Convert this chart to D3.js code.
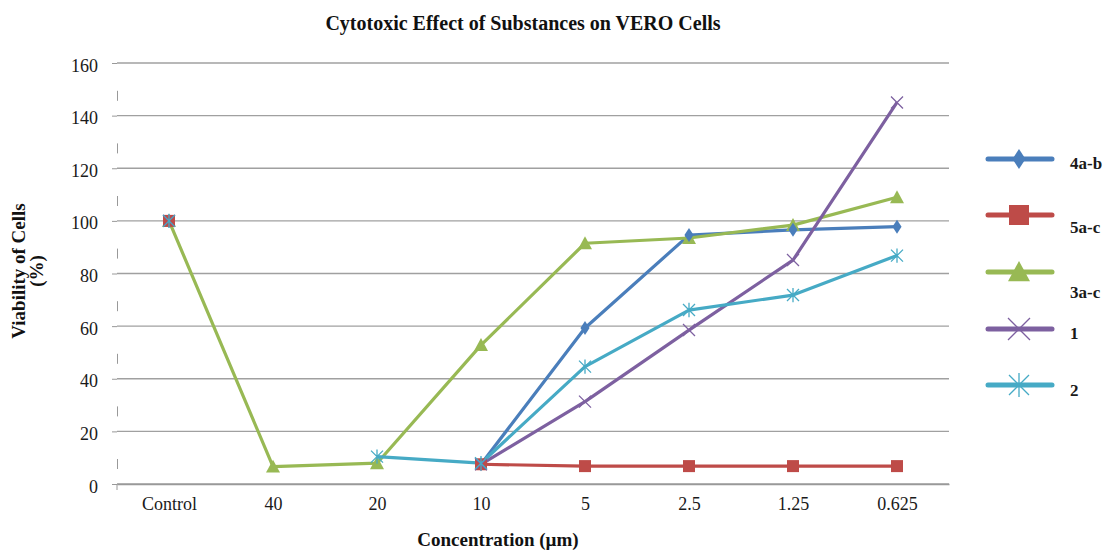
<!doctype html>
<html>
<head>
<meta charset="UTF-8">
<title>Cytotoxic Effect of Substances on VERO Cells</title>
<script src="https://d3js.org/d3.v7.min.js"></script>
<style>
  body { margin: 0; background: #fff; }
  text { font-family: "Liberation Serif", "Times New Roman", serif; }
</style>
</head>
<body>
<svg id="chart" width="1110" height="551"></svg>
<script>
// categories and tick labels
var concentrations = ["Control", "40", "20", "10", "5", "2.5", "1.25", "0.625"];
var yTicks = [0, 20, 40, 60, 80, 100, 120, 140, 160];

// series values (null = no measurement)
var s4ab = [100, null, null, 7.5, 59.3, 94.6, 96.6, 97.8];
var s5ac = [100, null, null, 7.5, 6.8, 6.8, 6.8, 6.8];
var s3ac = [100, 6.6, 7.9, 52.8, 91.5, 93.5, 98.4, 109];
var s1 = [100, null, null, 7.5, 31.3, 58.5, 85.1, 145];
var s2 = [100, null, 10.4, 7.9, 44.6, 66.1, 71.8, 86.8];

var seriesNames = ["4a-b", "5a-c", "3a-c", "1", "2"];
var seriesColors = ["#4A7EBB", "#BE4B48", "#98B954", "#7D60A0", "#46AAC5"];
var seriesMarkers = ["diamond", "square", "triangle", "cross", "star"];

var series = [s4ab, s5ac, s3ac, s1, s2].map(function (vals, i) {
  return { name: seriesNames[i], color: seriesColors[i], marker: seriesMarkers[i], values: vals };
});

var svg = d3.select("#chart");
var plotLeft = 117, plotRight = 949, plotTop = 63, plotBottom = 484;

var x = d3.scalePoint().domain(concentrations).range([plotLeft, plotRight]).padding(0.5);
var y = d3.scaleLinear().domain([0, 160]).range([plotBottom, plotTop]);

// gridlines
svg.append("g")
  .selectAll("line")
  .data(yTicks)
  .enter().append("line")
  .attr("x1", plotLeft).attr("x2", plotRight)
  .attr("y1", function (d) { return y(d); })
  .attr("y2", function (d) { return y(d); })
  .attr("stroke", "#a0a0a0")
  .attr("stroke-width", 1.3);

// y axis
var yAxis = svg.append("g")
  .attr("transform", "translate(" + plotLeft + ",0)")
  .call(d3.axisLeft(y).tickValues(yTicks).tickSize(5).tickPadding(14));
yAxis.select(".domain").attr("stroke", "#999").attr("stroke-dasharray", "0,21,10,21.6");
yAxis.selectAll(".tick line").attr("stroke", "#999");
yAxis.selectAll(".tick text")
  .attr("font-family", "Liberation Serif, serif")
  .attr("font-size", 18)
  .attr("dy", "0.45em")
  .attr("fill", "#1a1a1a");

// x axis
var xAxis = svg.append("g")
  .attr("transform", "translate(0," + plotBottom + ")")
  .call(d3.axisBottom(x).tickSize(0).tickPadding(13));
xAxis.select(".domain").attr("stroke", "#999").attr("stroke-width", 1.3);
xAxis.selectAll(".tick text")
  .attr("font-family", "Liberation Serif, serif")
  .attr("font-size", 18)
  .attr("fill", "#1a1a1a");
svg.append("line")
  .attr("x1", plotLeft).attr("x2", plotLeft)
  .attr("y1", plotBottom).attr("y2", plotBottom + 6)
  .attr("stroke", "#999");

// lines
var line = d3.line()
  .defined(function (d) { return d.v !== null; })
  .x(function (d) { return x(d.c); })
  .y(function (d) { return y(d.v); });

function pts(s) {
  return s.values.map(function (v, i) { return { c: concentrations[i], v: v }; });
}

function drawMarker(g, type, color, h) {
  if (type === "diamond") {
    g.append("path").attr("d", "M0," + (-h) + "L" + (h * 0.65) + ",0L0," + h + "L" + (-h * 0.65) + ",0Z").attr("fill", color);
  } else if (type === "square") {
    g.append("rect").attr("x", -h).attr("y", -h).attr("width", h * 2).attr("height", h * 2).attr("fill", color);
  } else if (type === "triangle") {
    g.append("path").attr("d", "M0," + (-h) + "L" + h + "," + (h * 0.85) + "L" + (-h) + "," + (h * 0.85) + "Z").attr("fill", color);
  } else if (type === "cross") {
    g.append("path").attr("d", "M" + (-h) + "," + (-h) + "L" + h + "," + h + "M" + (-h) + "," + h + "L" + h + "," + (-h))
      .attr("stroke", color).attr("stroke-width", 1.3).attr("fill", "none");
  } else if (type === "star") {
    g.append("path").attr("d", "M" + (-h) + "," + (-h) + "L" + h + "," + h + "M" + (-h) + "," + h + "L" + h + "," + (-h) + "M0," + (-h * 1.2) + "L0," + (h * 1.2))
      .attr("stroke", color).attr("stroke-width", 1.3).attr("fill", "none");
  }
}

series.forEach(function (s) {
  svg.append("path")
    .datum(pts(s))
    .attr("d", line)
    .attr("fill", "none")
    .attr("stroke", s.color)
    .attr("stroke-width", 3.2)
    .attr("stroke-linejoin", "round");
});

var markerOrder = [2, 0, 1, 3, 4];
var markerSize = { diamond: 7, square: 6, triangle: 7, cross: 6, star: 6 };
markerOrder.forEach(function (k) {
  var s = series[k];
  pts(s).filter(function (d) { return d.v !== null; }).forEach(function (d) {
    var g = svg.append("g").attr("transform", "translate(" + x(d.c) + "," + y(d.v) + ")");
    drawMarker(g, s.marker, s.color, markerSize[s.marker]);
  });
});

// legend
var legendY = [159, 215, 272, 329, 385];
var labelY = [169, 233, 298, 339, 396];
var legendSize = { diamond: 10, square: 10, triangle: 11, cross: 11, star: 10 };
series.forEach(function (s, i) {
  var g = svg.append("g").attr("transform", "translate(0," + legendY[i] + ")");
  g.append("line").attr("x1", 988).attr("x2", 1052).attr("y1", 0).attr("y2", 0)
    .attr("stroke", s.color).attr("stroke-width", 5).attr("stroke-linecap", "round");
  var m = g.append("g").attr("transform", "translate(1019,0)");
  drawMarker(m, s.marker, s.color, legendSize[s.marker]);
  svg.append("text").attr("x", 1070).attr("y", labelY[i])
    .attr("font-size", 17).attr("font-weight", "bold").attr("fill", "#1a1a1a")
    .text(s.name);
});

// titles
svg.append("text").attr("x", 523).attr("y", 30).attr("text-anchor", "middle")
  .attr("font-size", 20).attr("font-weight", "bold").attr("fill", "#111")
  .text("Cytotoxic Effect of Substances on VERO Cells");
svg.append("text").attr("x", 498).attr("y", 546).attr("text-anchor", "middle")
  .attr("font-size", 19).attr("font-weight", "bold").attr("fill", "#111")
  .text("Concentration (µm)");
var yl = svg.append("text").attr("transform", "translate(25,271) rotate(-90)")
  .attr("text-anchor", "middle").attr("font-size", 19).attr("font-weight", "bold").attr("fill", "#111");
yl.append("tspan").attr("x", 0).attr("dy", 0).text("Viability of Cells");
yl.append("tspan").attr("x", 0).attr("dy", 18).text("(%)");
</script>
</body>
</html>
